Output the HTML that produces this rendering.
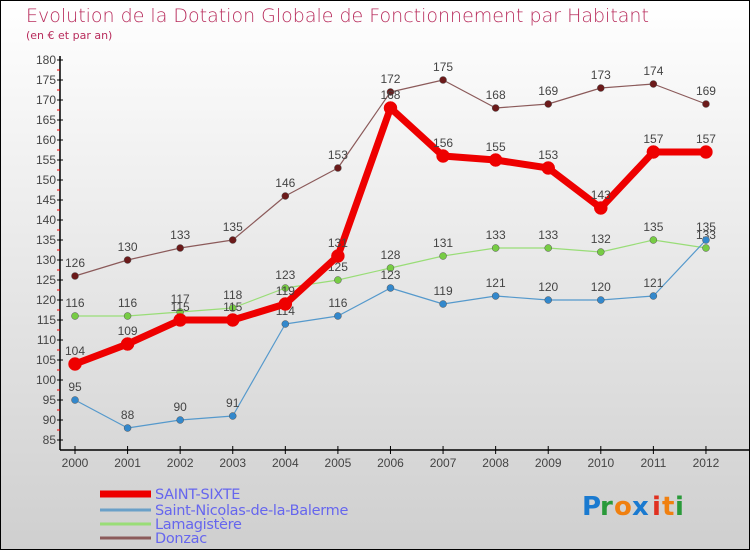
<!DOCTYPE html>
<html><head><meta charset="utf-8"><style>
body{margin:0}
#c{width:750px;height:550px;position:relative;box-sizing:border-box;border:1px solid #000;background:linear-gradient(#fff,#cfcfcf);font-family:"DejaVu Sans","Liberation Sans",sans-serif;overflow:hidden}
</style></head><body>
<div id="c">
<svg id="s" width="750" height="550" style="position:absolute;left:-1px;top:-1px">
<text x="26" y="22" font-size="19" fill="#b82c5c" font-family="DejaVu Sans" font-weight="200">Evolution de la Dotation Globale de Fonctionnement par Habitant</text>
<text x="26" y="39" font-size="11" fill="#b82c5c">(en € et par an)</text>
<g id="axes"></g><g id="series"></g><g id="legend"></g>
<g font-size="26" font-family="DejaVu Sans" font-weight="bold">
<text x="582" y="515" fill="#1a7ad0">P</text><text x="600" y="515" fill="#2a9a3a">r</text><text x="614" y="515" fill="#f08010">o</text><text x="632" y="515" fill="#1a7ad0">x</text><text x="652" y="515" fill="#e03020">i</text><text x="662" y="515" fill="#f08010">t</text><text x="675" y="515" fill="#2a9a3a">i</text>
</g>
</svg>
</div>
<script>
const years=[2000,2001,2002,2003,2004,2005,2006,2007,2008,2009,2010,2011,2012];
const saintSixte=[104,109,115,115,119,131,168,156,155,153,143,157,157];
const saintNicolas=[95,88,90,91,114,116,123,119,121,120,120,121,135];
const lamagistere=[116,116,117,118,123,125,128,131,133,133,132,135,133];
const donzac=[126,130,133,135,146,153,172,175,168,169,173,174,169];
const yTicks=[85,90,95,100,105,110,115,120,125,130,135,140,145,150,155,160,165,170,175,180];
const NS='http://www.w3.org/2000/svg';
const xS=i=>75+i*52.58;
const yS=v=>60+(180-v)*4;
function mk(t,a,p){const e=document.createElementNS(NS,t);for(const k in a)e.setAttribute(k,a[k]);p.appendChild(e);return e;}
const ax=document.getElementById('axes');
let e=mk('line',{x1:60,y1:56,x2:60,y2:450,stroke:'#000','stroke-width':1.5},ax);


e=mk('line',{x1:60,y1:450,x2:750,y2:450,stroke:'#000','stroke-width':1.5},ax);


yTicks.forEach(v=>{
 mk('line',{x1:57,y1:yS(v),x2:63,y2:yS(v),stroke:'#000'},ax);
 if(v<180)mk('line',{x1:57,y1:yS(v+2.5),x2:60,y2:yS(v+2.5),stroke:'#e00'},ax);
 const t=mk('text',{x:56,y:yS(v)+4,'text-anchor':'end','font-size':12,fill:'#444','font-family':'Liberation Sans'},ax);t.textContent=v;
 
 
});
years.forEach((y,i)=>{
 mk('line',{x1:xS(i),y1:446,x2:xS(i),y2:454,stroke:'#000'},ax);
 const t=mk('text',{x:xS(i),y:467,'text-anchor':'middle','font-size':12,fill:'#444','font-family':'Liberation Sans'},ax);t.textContent=y;
 
 
});
const sg=document.getElementById('series');
function draw(vals,color,w,r,name,dot){
 const g=mk('g',{},sg);
 
 
 mk('polyline',{points:vals.map((v,i)=>xS(i)+','+yS(v)).join(' '),fill:'none',stroke:color,'stroke-width':w,'stroke-linejoin':'round'},g);
 vals.forEach((v,i)=>{
  const c=mk('circle',{cx:xS(i),cy:yS(v),r:r,fill:dot,stroke:w>3?dot:'#555','stroke-width':0.5},g);
  
  
  const t=mk('text',{x:xS(i),y:yS(v)-9,'text-anchor':'middle','font-size':12,fill:'#444','font-family':'Liberation Sans'},g);t.textContent=v;
  
  
 });
}
draw(donzac,'#8b5a5a',1.2,3.5,'donzac-series','#6b1a1a');
draw(lamagistere,'#99dd77',1.2,3.5,'lamagistere-series','#77cc44');
draw(saintNicolas,'#5599cc',1.2,3.5,'saint-nicolas-series','#3388cc');
draw(saintSixte,'#ee0000',7,6.5,'saint-sixte-series','#ee0000');
const lg=document.getElementById('legend');
[['SAINT-SIXTE','#ee0000',7,497],['Saint-Nicolas-de-la-Balerme','#6aa0c8',3,513],['Lamagistère','#99dd77',3,527],['Donzac','#8b5a5a',3,541]].forEach(([n,c,w,y])=>{
 const g=mk('g',{},lg);
 
 
 mk('line',{x1:100,y1:y-3,x2:151,y2:y-3,stroke:c,'stroke-width':w},g);
 const t=mk('text',{x:155,y:y+2,'font-size':14.5,fill:'#6666ee','letter-spacing':'-0.3'},g);t.textContent=n;
});
</script>
</body></html>
